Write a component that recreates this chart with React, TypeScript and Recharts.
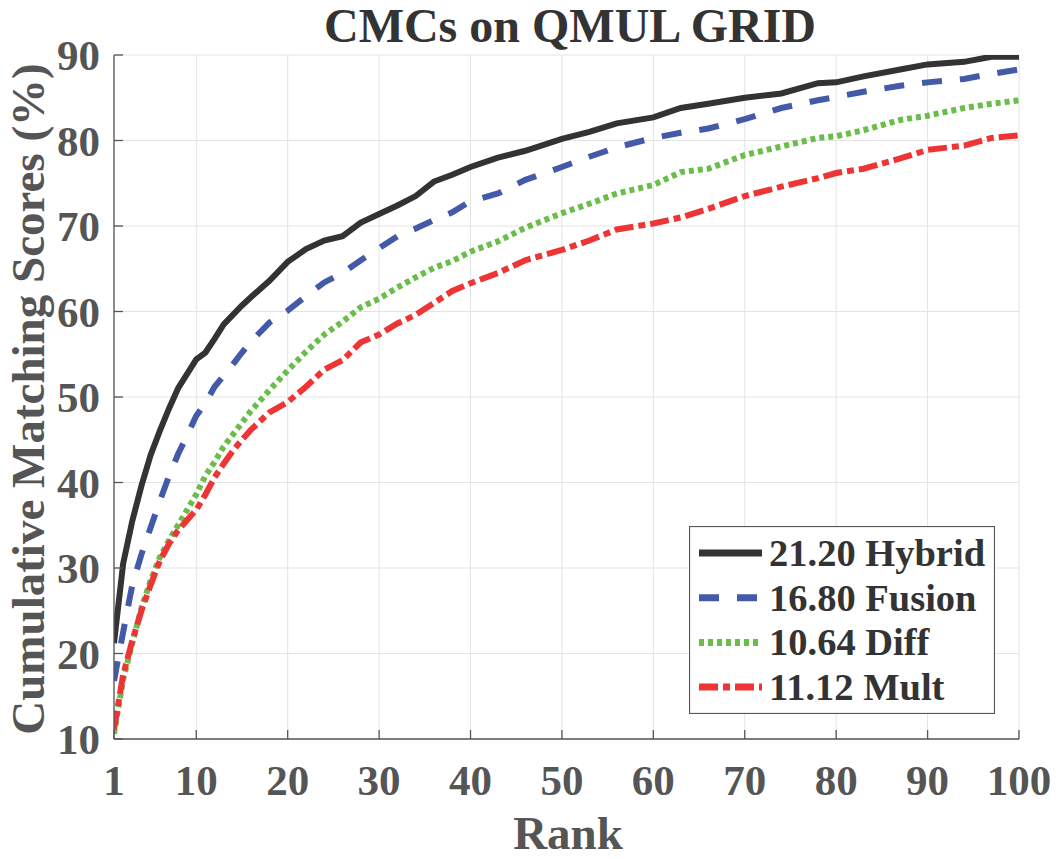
import React from 'react';
import { LineChart, Line, XAxis, YAxis, CartesianGrid, Legend } from 'recharts';

// ---- data ----
const ranks = [1, 2, 3, 4, 5, 6, 7, 8, 9, 10, 11, 12, 13, 14, 15, 16, 18, 20, 22, 24, 26, 28, 30, 32, 34, 36, 38, 40, 43, 46, 50, 53, 56, 60, 63, 66, 70, 74, 78, 80, 83, 87, 90, 94, 97, 100];
const hybrid = [21.2, 30.5, 35.5, 39.6, 43.2, 46.0, 48.6, 51.0, 52.7, 54.4, 55.2, 56.8, 58.5, 59.6, 60.7, 61.7, 63.6, 65.8, 67.3, 68.3, 68.8, 70.4, 71.4, 72.4, 73.5, 75.2, 76.0, 76.9, 78.0, 78.8, 80.2, 81.0, 82.0, 82.7, 83.8, 84.3, 85.0, 85.5, 86.7, 86.8, 87.5, 88.3, 88.9, 89.2, 89.8, 89.8];
const fusion = [16.8, 22.5, 28.0, 31.6, 34.7, 37.8, 40.7, 43.3, 45.5, 47.8, 49.3, 51.2, 52.5, 53.8, 55.2, 56.5, 58.7, 60.1, 61.8, 63.4, 64.5, 66.0, 67.4, 68.8, 69.7, 70.7, 71.6, 72.9, 73.8, 75.4, 76.9, 78.1, 79.2, 80.3, 80.9, 81.4, 82.5, 83.8, 84.7, 85.1, 85.7, 86.4, 86.8, 87.2, 87.8, 88.3];
const diff = [10.6, 17.0, 21.2, 25.3, 28.5, 31.2, 33.2, 35.0, 36.8, 38.6, 40.8, 42.4, 44.2, 45.6, 47.0, 48.4, 50.8, 53.1, 55.3, 57.3, 58.8, 60.5, 61.5, 62.8, 64.0, 65.1, 65.9, 67.0, 68.2, 69.8, 71.5, 72.6, 73.8, 74.8, 76.3, 76.7, 78.3, 79.3, 80.3, 80.5, 81.2, 82.4, 82.9, 83.8, 84.3, 84.7];
const mult = [11.1, 17.5, 21.5, 25.0, 28.0, 30.8, 32.8, 34.4, 35.6, 36.8, 38.6, 40.6, 42.2, 43.7, 45.0, 46.2, 48.2, 49.4, 51.2, 53.2, 54.3, 56.4, 57.3, 58.6, 59.6, 61.0, 62.4, 63.3, 64.5, 66.0, 67.2, 68.3, 69.6, 70.3, 71.0, 72.0, 73.5, 74.6, 75.6, 76.2, 76.7, 77.9, 78.9, 79.4, 80.3, 80.6];

const xTicks = [1, 10, 20, 30, 40, 50, 60, 70, 80, 90, 100];
const yTicks = [10, 20, 30, 40, 50, 60, 70, 80, 90];
const seriesNames = ['21.20 Hybrid', '16.80 Fusion', '10.64 Diff', '11.12 Mult'];
const titleText = 'CMCs on QMUL GRID';
const xLabelText = 'Rank';
const yLabelText = 'Cumulative Matching Scores (%)';

const data = ranks.map((r, i) => ({
  rank: r,
  hybrid: hybrid[i],
  fusion: fusion[i],
  diff: diff[i],
  mult: mult[i],
}));

// ---- styles ----
const FONT = '"Liberation Serif", "Times New Roman", Times, serif';
const AXIS = '#555555';
const TICK_TEXT = '#555555';
const DARK_TEXT = '#333333';
const TICK_LEN = 9;

const series = [
  { key: 'hybrid', name: seriesNames[0], color: '#333333', dash: undefined as string | undefined, width: 6, xId: 'top', yId: 'right' },
  { key: 'fusion', name: seriesNames[1], color: '#4459a8', dash: '20 18', width: 6, xId: 0, yId: 0 },
  { key: 'diff', name: seriesNames[2], color: '#6abd4b', dash: '5 4', width: 6, xId: 0, yId: 0 },
  { key: 'mult', name: seriesNames[3], color: '#ee3536', dash: '19 5 7 5', width: 6, xId: 0, yId: 0 },
];

const BottomTick = (props: any) => {
  const { x, y, payload } = props;
  return (
    <g>
      <line x1={x} y1={y} x2={x} y2={y - TICK_LEN} stroke={AXIS} strokeWidth={1.3} />
      <text x={x} y={y + 56} textAnchor="middle" fontFamily={FONT} fontWeight="bold" fontSize={43} fill={TICK_TEXT}>
        {payload.value}
      </text>
    </g>
  );
};

const TopTick = (props: any) => {
  const { x, y } = props;
  return <line x1={x} y1={y} x2={x} y2={y + TICK_LEN} stroke={AXIS} strokeWidth={1.3} />;
};

const LeftTick = (props: any) => {
  const { x, y, payload } = props;
  return (
    <g>
      <line x1={x} y1={y} x2={x + TICK_LEN} y2={y} stroke={AXIS} strokeWidth={1.3} />
      <text x={x - 14} y={y + 15} textAnchor="end" fontFamily={FONT} fontWeight="bold" fontSize={43} fill={TICK_TEXT}>
        {payload.value}
      </text>
    </g>
  );
};

const RightTick = (props: any) => {
  const { x, y } = props;
  return <line x1={x} y1={y} x2={x - TICK_LEN} y2={y} stroke={AXIS} strokeWidth={1.3} />;
};

const XLabel = () => (
  <text x={568} y={849} textAnchor="middle" fontFamily={FONT} fontWeight="bold" fontSize={47} fill={TICK_TEXT}>
    {xLabelText}
  </text>
);

const YLabel = () => (
  <text
    x={44}
    y={399}
    transform="rotate(-90 44 399)"
    textAnchor="middle"
    fontFamily={FONT}
    fontWeight="bold"
    fontSize={47}
    fill={TICK_TEXT}
  >
    {yLabelText}
  </text>
);

const LegendBox = () => (
  <svg width={306} height={188} style={{ display: 'block' }}>
    <rect x={0.5} y={0.5} width={305} height={187} fill="#ffffff" stroke={AXIS} strokeWidth={1.2} />
    {series.map((s, i) => {
      const cy = 27 + i * 44.7;
      return (
        <g key={s.key}>
          <line x1={10} y1={cy} x2={73} y2={cy} stroke={s.color} strokeWidth={7} strokeDasharray={s.dash} />
          <text x={80} y={cy + 13} fontFamily={FONT} fontWeight="bold" fontSize={38.5} fill={DARK_TEXT}>
            {s.name}
          </text>
        </g>
      );
    })}
  </svg>
);

export default function App() {
  return (
    <div style={{ position: 'absolute', left: 0, top: 0, width: 1056, height: 859, background: '#ffffff', overflow: 'hidden' }}>
      <svg width={1056} height={55} style={{ position: 'absolute', left: 0, top: 0, zIndex: 2, pointerEvents: 'none' }}>
        <text x={570} y={42} textAnchor="middle" fontFamily={FONT} fontWeight="bold" fontSize={48} fill={DARK_TEXT}>
          {titleText}
        </text>
      </svg>
      <LineChart
        width={1056}
        height={859}
        data={data}
        margin={{ top: 55, right: 37, bottom: 60, left: 14 }}
      >
        <CartesianGrid stroke="#e3e3e3" strokeWidth={1} />
        <XAxis
          dataKey="rank"
          type="number"
          domain={[1, 100]}
          ticks={xTicks}
          interval={0}
          height={60}
          tickSize={0}
          tickMargin={0}
          tickLine={false}
          tick={<BottomTick />}
          axisLine={{ stroke: AXIS, strokeWidth: 1.3 }}
          label={<XLabel />}
          allowDataOverflow
        />
        <XAxis
          xAxisId="top"
          orientation="top"
          dataKey="rank"
          type="number"
          domain={[1, 100]}
          ticks={xTicks}
          interval={0}
          height={0}
          tickSize={0}
          tickMargin={0}
          tickLine={false}
          tick={<TopTick />}
          axisLine={{ stroke: AXIS, strokeWidth: 1.3 }}
          allowDataOverflow
        />
        <YAxis
          type="number"
          domain={[10, 90]}
          ticks={yTicks}
          interval={0}
          width={100}
          tickSize={0}
          tickMargin={0}
          tickLine={false}
          tick={<LeftTick />}
          axisLine={{ stroke: AXIS, strokeWidth: 1.3 }}
          label={<YLabel />}
          allowDataOverflow
        />
        <YAxis
          yAxisId="right"
          orientation="right"
          type="number"
          domain={[10, 90]}
          ticks={yTicks}
          interval={0}
          width={0}
          tickSize={0}
          tickMargin={0}
          tickLine={false}
          tick={<RightTick />}
          axisLine={{ stroke: AXIS, strokeWidth: 1.3 }}
          allowDataOverflow
        />
        {series.map((s) => (
          <Line
            key={s.key}
            xAxisId={s.xId}
            yAxisId={s.yId}
            type="linear"
            dataKey={s.key}
            name={s.name}
            stroke={s.color}
            strokeWidth={s.width}
            strokeDasharray={s.dash}
            dot={false}
            activeDot={false}
            isAnimationActive={false}
          />
        ))}
        <Legend
          layout="horizontal"
          verticalAlign="middle"
          align="center"
          content={() => <LegendBox />}
          wrapperStyle={{ position: 'absolute', left: 689, top: 526, width: 306, height: 188 }}
        />
      </LineChart>
    </div>
  );
}
